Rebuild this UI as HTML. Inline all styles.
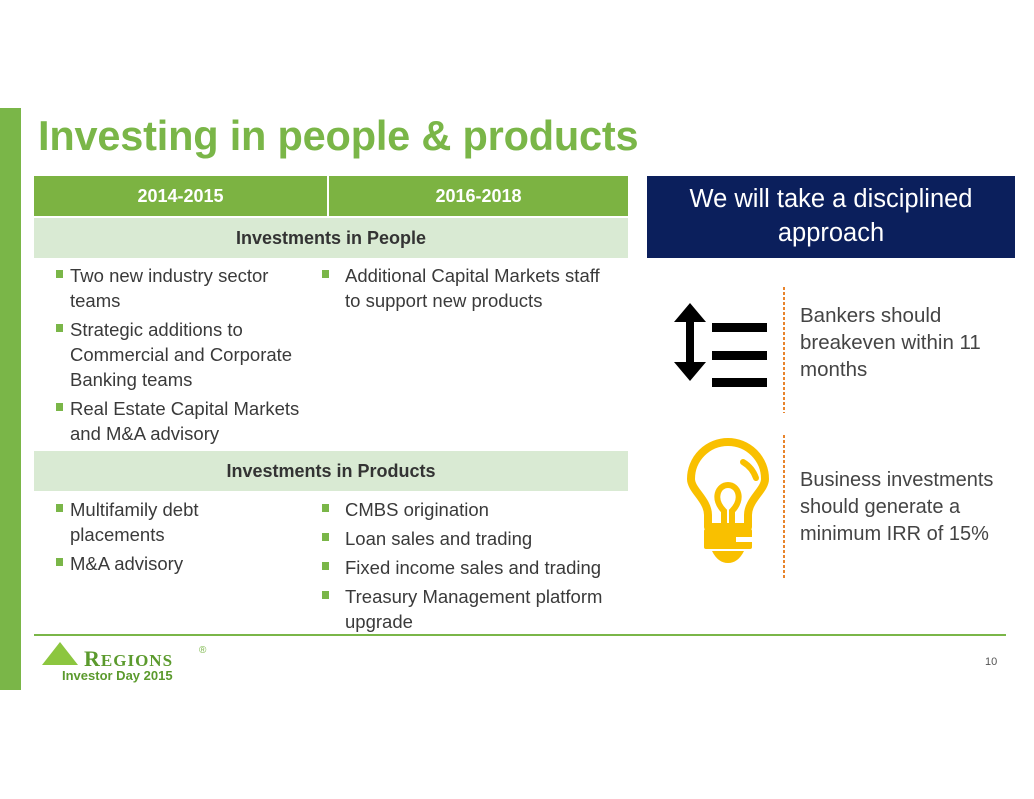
<!DOCTYPE html>
<html><head><meta charset="utf-8"><style>
body{margin:0;width:1034px;height:799px;background:#fff;position:relative;overflow:hidden;font-family:"Liberation Sans",sans-serif;color:#333}
.a{position:absolute}
.t{font-size:18.5px;line-height:25px;color:#3a3a3a}
ul{margin:0;padding:0;list-style:none}
li{position:relative;padding-left:36px;margin-bottom:4px;white-space:nowrap}
li:before{content:"";position:absolute;left:22px;top:7px;width:7px;height:8px;background:#7ab648}
.c2 li{padding-left:35px}
.c2 li:before{left:12px}
.hd{background:#7cb342;color:#fff;font-weight:bold;font-size:18px;text-align:center;line-height:40px}
.sub{background:#d9ead3;color:#333;font-weight:bold;font-size:18px;text-align:center;line-height:40px}
</style></head><body>
<div class="a" style="left:0;top:108px;width:21px;height:582px;background:#7ab648"></div>
<div class="a" style="left:38px;top:112px;font-size:41.5px;font-weight:bold;color:#7ab648;letter-spacing:-0.2px">Investing in people &amp; products</div>

<div class="a hd" style="left:34px;top:176px;width:293px;height:40px">2014-2015</div>
<div class="a hd" style="left:329px;top:176px;width:299px;height:40px">2016-2018</div>
<div class="a sub" style="left:34px;top:218px;width:594px;height:40px">Investments in People</div>
<div class="a sub" style="left:34px;top:451px;width:594px;height:40px">Investments in Products</div>

<div class="a t" style="left:34px;top:263px;width:280px"><ul>
<li>Two new industry sector<br>teams</li>
<li>Strategic additions to<br>Commercial and Corporate<br>Banking teams</li>
<li>Real Estate Capital Markets<br>and M&amp;A advisory</li></ul></div>
<div class="a t c2" style="left:310px;top:263px;width:320px"><ul>
<li>Additional Capital Markets staff<br>to support new products</li></ul></div>

<div class="a t" style="left:34px;top:497px;width:280px"><ul>
<li>Multifamily debt<br>placements</li>
<li>M&amp;A advisory</li></ul></div>
<div class="a t c2" style="left:310px;top:497px;width:320px"><ul>
<li>CMBS origination</li>
<li>Loan sales and trading</li>
<li>Fixed income sales and trading</li>
<li>Treasury Management platform<br>upgrade</li></ul></div>

<div class="a" style="left:34px;top:634px;width:972px;height:2px;background:#7ab648"></div>

<div class="a" style="left:647px;top:176px;width:368px;height:82px;background:#0b1f5c;color:#fff;font-size:25.5px;line-height:34px;text-align:center;padding-top:6px;box-sizing:border-box">We will take a disciplined<br>approach</div>

<svg class="a" style="left:660px;top:285px" width="130" height="310">
<polygon points="16,18 0,37 12,37 12,77 0,77 16,96 32,77 20,77 20,37 32,37" fill="#000" transform="translate(14,0)"/>
<rect x="52" y="38" width="55" height="9" fill="#000"/><rect x="52" y="66" width="55" height="9" fill="#000"/><rect x="52" y="93" width="55" height="9" fill="#000"/>
<line x1="124" y1="2" x2="124" y2="128" stroke="#e8842c" stroke-width="2" stroke-dasharray="3,2"/>
<line x1="124" y1="150" x2="124" y2="295" stroke="#e8842c" stroke-width="2" stroke-dasharray="3,2"/>
<path d="M48,242 L48,230 C48,215 31,205 31,194 A37,37 0 1 1 105,194 C105,205 88,215 88,230 L88,242 Z" fill="none" stroke="#f9c000" stroke-width="8" stroke-linejoin="round"/>
<path d="M64,240 L64,226 C52,214 58,200 68,200 C78,200 84,214 72,226 L72,240" fill="none" stroke="#f9c000" stroke-width="6"/>
<rect x="44" y="244" width="48" height="20" rx="2" fill="#f9c000"/>
<rect x="76" y="252" width="16" height="5" fill="#fff"/>
<path d="M52,266 L84,266 Q78,278 68,278 Q58,278 52,266 Z" fill="#f9c000"/>
<path d="M83,177 A30,30 0 0 1 96,193" fill="none" stroke="#f9c000" stroke-width="6" stroke-linecap="round"/>
</svg>

<div class="a" style="left:800px;top:302px;font-size:20.5px;line-height:27px;color:#444">Bankers should<br>breakeven within 11<br>months</div>
<div class="a" style="left:800px;top:467px;font-size:20px;line-height:27px;color:#444">Business investments<br>should generate a<br>minimum IRR of 15%</div>

<svg class="a" style="left:40px;top:640px" width="40" height="27"><polygon points="2,25 20,2 38,25" fill="#8cc63f"/></svg>
<div class="a" style="left:84px;top:646px;font-family:'Liberation Serif',serif;font-weight:bold;font-size:22px;color:#5b9a2d;letter-spacing:1px">R<span style="font-size:17px">EGIONS</span></div>
<div class="a" style="left:199px;top:645px;font-size:10px;color:#7ab648">®</div>
<div class="a" style="left:62px;top:668px;font-size:13px;font-weight:bold;color:#5b9a2d">Investor Day 2015</div>
<div class="a" style="left:985px;top:656px;font-size:11px;color:#555">10</div>
</body></html>
